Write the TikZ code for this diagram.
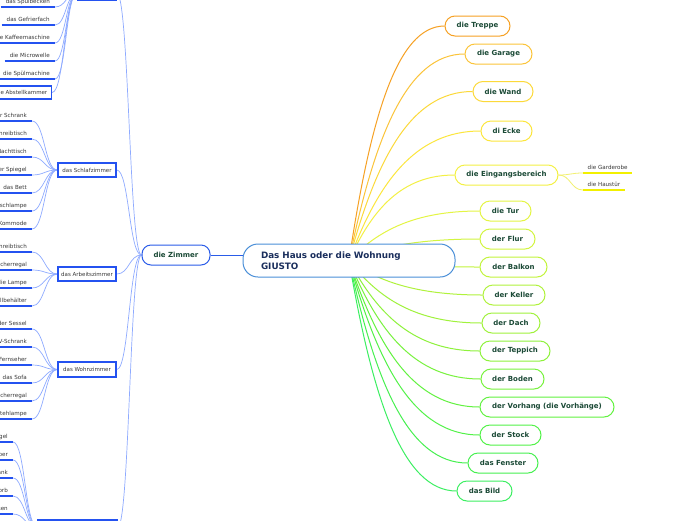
\documentclass[tikz,border=0pt]{standalone}
\usepackage{fontspec}
\setmainfont{DejaVu Sans}
\usetikzlibrary{calc,backgrounds}
\pgfdeclarelayer{bottomfill}
\pgfsetlayers{bottomfill,background,main}
\definecolor{tgreen}{HTML}{1B4A36}
\definecolor{navy}{HTML}{1A2E5C}
\definecolor{cborder}{HTML}{4A8FD8}
\definecolor{zblue}{HTML}{2A5CE8}
\definecolor{boxblue}{HTML}{2452F0}
\definecolor{lconn}{HTML}{8EAAFF}
\definecolor{leafgray}{HTML}{383838}
\definecolor{gyellow}{HTML}{F2F000}
\definecolor{gconn}{HTML}{F2F070}
\definecolor{cTreppe}{HTML}{F6A124}
\definecolor{cGarage}{HTML}{FBC43A}
\definecolor{cWand}{HTML}{FCD93A}
\definecolor{cEcke}{HTML}{FCE63C}
\definecolor{cEing}{HTML}{F3F044}
\definecolor{cTur}{HTML}{E4F544}
\definecolor{cFlur}{HTML}{D2F540}
\definecolor{cBalkon}{HTML}{C2F43C}
\definecolor{cKeller}{HTML}{B0F23C}
\definecolor{cDach}{HTML}{A0F23C}
\definecolor{cTeppich}{HTML}{8EF23C}
\definecolor{cBoden}{HTML}{78F23E}
\definecolor{cVorhang}{HTML}{62F240}
\definecolor{cStock}{HTML}{52F248}
\definecolor{cFenster}{HTML}{46F050}
\definecolor{cBild}{HTML}{3CEF62}
\tikzset{
  rn/.style={draw=#1, line width=1pt, fill=white, rounded corners=10pt,
    minimum height=20pt, inner sep=0pt, text=tgreen,
    font=\fontsize{7}{8}\selectfont\bfseries},
  rc/.style={line width=1pt},
  leaf/.style={inner xsep=5pt, inner ysep=3pt, text depth=0pt, text=leafgray,
    font=\fontsize{5.6}{6}\selectfont},
  uline/.style={draw=boxblue, line width=1.5pt},
  yline/.style={draw=gyellow, line width=1.5pt},
  lc/.style={draw=lconn, line width=0.7pt},
  yc/.style={draw=gconn, line width=0.8pt},
  box/.style={draw=boxblue, line width=1.5pt, fill=white, inner sep=0pt,
    minimum height=14pt, text=leafgray, font=\fontsize{5.5}{6}\selectfont},
}
\newcommand\rcon[2]{\draw[rc,draw=#2] let \p1=(C.center),\p2=(#1.west) in
  (\p1) .. controls ({\x1+0.22*(\x2-\x1)},{\y1+0.6*(\y2-\y1)}) and ({\x1+0.5*(\x2-\x1)},\y2) .. (\p2);}
\newcommand\scon[3][lc]{\draw[#1] let \p1=(#2),\p2=(#3) in
  (\p1) .. controls ({0.5*(\x1+\x2)},\y1) and ({0.5*(\x1+\x2)},\y2) .. (\p2);}
\newcommand\leafL[4]{\node[leaf,anchor=south east] (#1) at (#2,#3) {#4};
  \draw[uline] (#1.south west) -- (#1.south east);}
\begin{document}
\begin{tikzpicture}[x=1pt,y=-1pt]
\useasboundingbox (0,0) rectangle (696,520);
\begin{pgfonlayer}{bottomfill}
\fill[white] (0,0) rectangle (696,520);
\end{pgfonlayer}
% central node
\node[draw=cborder, line width=1pt, fill=white, rounded corners=15pt,
  minimum width=212pt, minimum height=33pt, text width=176pt, align=left,
  inner xsep=18pt, text=navy, font=\fontsize{8.8}{10.5}\selectfont\bfseries]
  (C) at (349,260.5) {Das Haus oder die Wohnung\\GIUSTO};
% die Zimmer
\node[draw=zblue, line width=1pt, fill=white, rounded corners=9pt,
  minimum width=68pt, minimum height=20pt, inner sep=0pt, text=tgreen,
  font=\fontsize{7}{8}\selectfont\bfseries] (Z) at (176,255) {die Zimmer};
% right nodes
\node[rn=cTreppe, minimum width=65pt] (treppe) at (477.5,26) {die Treppe};
\node[rn=cGarage, minimum width=67pt] (garage) at (498.5,54) {die Garage};
\node[rn=cWand, minimum width=60pt] (wand) at (503,91.5) {die Wand};
\node[rn=cEcke, minimum width=51pt] (ecke) at (506.5,131) {di Ecke};
\node[rn=cEing, minimum width=103pt] (eing) at (506.5,175) {die Eingangsbereich};
\node[rn=cTur, minimum width=51pt] (tur) at (505.5,211) {die Tur};
\node[rn=cFlur, minimum width=55pt] (flur) at (507.5,239) {der Flur};
\node[rn=cBalkon, minimum width=67pt] (balkon) at (513.5,267) {der Balkon};
\node[rn=cKeller, minimum width=62pt] (keller) at (514,295) {der Keller};
\node[rn=cDach, minimum width=58pt] (dach) at (511,323) {der Dach};
\node[rn=cTeppich, minimum width=70pt] (teppich) at (515,351) {der Teppich};
\node[rn=cBoden, minimum width=63pt] (boden) at (512.5,379) {der Boden};
\node[rn=cVorhang, minimum width=134pt] (vorhang) at (547,407) {der Vorhang (die Vorhänge)};
\node[rn=cStock, minimum width=61pt] (stock) at (510.5,435) {der Stock};
\node[rn=cFenster, minimum width=70pt] (fenster) at (503,463) {das Fenster};
\node[rn=cBild, minimum width=55pt] (bild) at (484.5,491) {das Bild};
% Eingangsbereich leaves
\node[leaf, inner xsep=4.5pt, anchor=south west] (g1) at (583,173) {die Garderobe};
\draw[yline] (g1.south west) -- (g1.south east);
\node[leaf, inner xsep=4.5pt, anchor=south west] (g2) at (583,190) {die Haustür};
\draw[yline] (g2.south west) -- (g2.south east);
% second level boxes
\node[box, minimum width=38pt] (kueche) at (97,-7) {die Küche};
\node[box, minimum width=58pt] (schlaf) at (87,170) {das Schlafzimmer};
\node[box, minimum width=58pt] (arbeit) at (87,274) {das Arbeitszimmer};
\node[box, minimum width=58pt, minimum height=15pt] (wohn) at (87,369.5) {das Wohnzimmer};
\node[box, minimum width=79pt] (bad) at (77.5,527) {das Badezimmer};
% Kueche leaves
\leafL{k1}{55}{7}{das Spülbecken}
\leafL{k2}{55}{25}{das Gefrierfach}
\leafL{k3}{55}{43}{die Kaffeemaschine}
\leafL{k4}{55}{61}{die Microwelle}
\leafL{k5}{55}{79}{die Spülmachine}
\node[box, anchor=east, inner xsep=4pt, minimum height=13pt] (k6) at (52,92.5) {die Abstellkammer};
% Schlafzimmer leaves
\leafL{s1}{32}{121}{der Schrank}
\leafL{s2}{32}{139}{der Schreibtisch}
\leafL{s3}{32}{157}{der Nachttisch}
\leafL{s4}{32}{175}{der Spiegel}
\leafL{s5}{32}{193}{das Bett}
\leafL{s6}{32}{211}{die Nachttischlampe}
\leafL{s7}{32}{229}{die Kommode}
% Arbeitszimmer leaves
\leafL{a1}{32}{252}{der Schreibtisch}
\leafL{a2}{32}{270}{das Bücherregal}
\leafL{a3}{32}{288}{die Lampe}
\leafL{a4}{32}{306}{der Abfallbehälter}
% Wohnzimmer leaves
\leafL{w1}{32}{329}{der Sessel}
\leafL{w2}{32}{347}{der TV-Schrank}
\leafL{w3}{32}{365}{der Fernseher}
\leafL{w4}{32}{383}{das Sofa}
\leafL{w5}{32}{401}{das Bücherregal}
\leafL{w6}{32}{419}{die Stehlampe}
% Bad leaves
\leafL{b1}{13}{442}{der Spiegel}
\leafL{b2}{13}{460}{der Körper}
\leafL{b3}{13}{478}{der Schrank}
\leafL{b4}{13}{496}{der Wäschekorb}
\leafL{b5}{13}{514}{die Fliesen}
% connectors
\begin{scope}[on background layer]
\draw[draw=zblue, line width=0.9pt] (Z.east) -- (C.center |- Z.east);
\rcon{treppe}{cTreppe}
\rcon{garage}{cGarage}
\rcon{wand}{cWand}
\rcon{ecke}{cEcke}
\rcon{eing}{cEing}
\rcon{tur}{cTur}
\rcon{flur}{cFlur}
\rcon{balkon}{cBalkon}
\rcon{keller}{cKeller}
\rcon{dach}{cDach}
\rcon{teppich}{cTeppich}
\rcon{boden}{cBoden}
\rcon{vorhang}{cVorhang}
\rcon{stock}{cStock}
\rcon{fenster}{cFenster}
\rcon{bild}{cBild}
\scon[yc]{eing.east}{g1.south west}
\scon[yc]{eing.east}{g2.south west}
\scon{Z.west}{kueche.east}
\scon{Z.west}{schlaf.east}
\scon{Z.west}{arbeit.east}
\scon{Z.west}{wohn.east}
\scon{Z.west}{bad.east}
\foreach \kk in {k1,k2,k3,k4,k5}{\scon{kueche.west}{\kk.south east}}
\scon{kueche.west}{k6.east}
\foreach \kk in {s1,s2,s3,s4,s5,s6,s7}{\scon{schlaf.west}{\kk.south east}}
\foreach \kk in {a1,a2,a3,a4}{\scon{arbeit.west}{\kk.south east}}
\foreach \kk in {w1,w2,w3,w4,w5,w6}{\scon{wohn.west}{\kk.south east}}
\foreach \kk in {b1,b2,b3,b4,b5}{\scon{bad.west}{\kk.south east}}
\end{scope}
\end{tikzpicture}
\end{document}
